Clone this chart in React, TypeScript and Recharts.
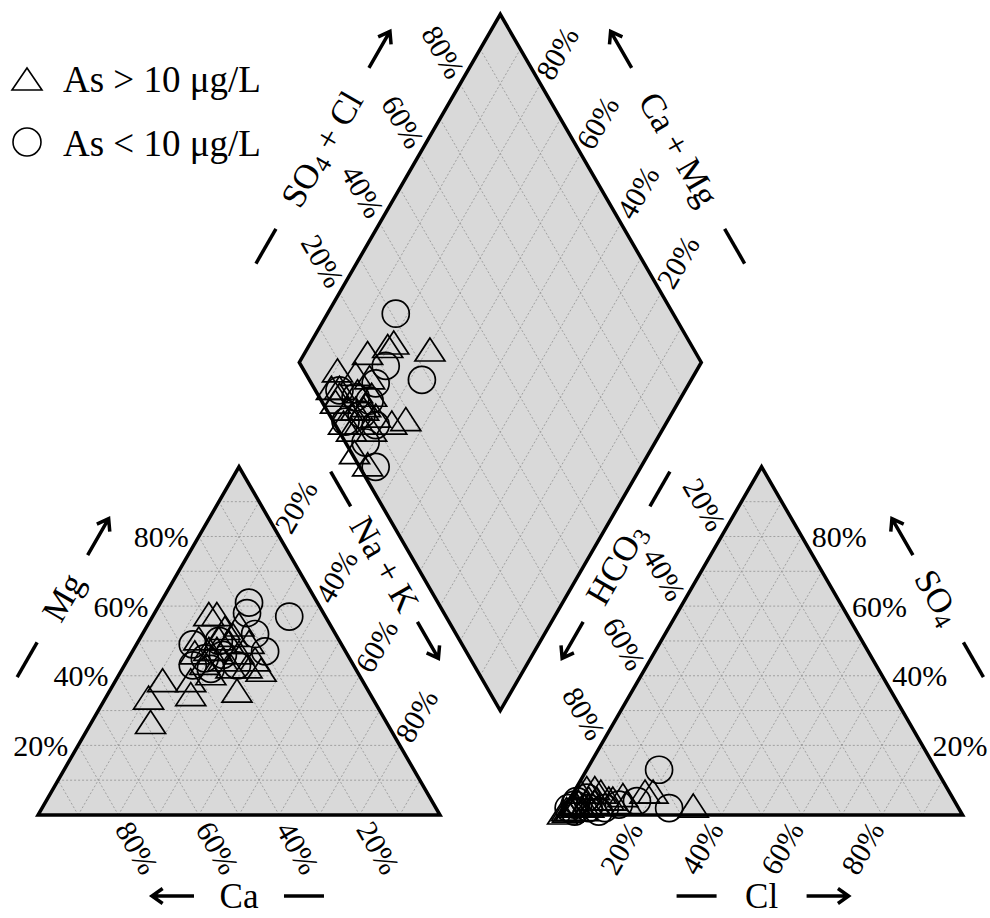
import React from "react";
import { ComposedChart, Scatter, XAxis, YAxis } from "recharts";

const W = 990;
const H = 918;
const SERIF = "Liberation Serif, Times New Roman, Times, serif";
const GREY = "#d9d9d9";

// Piper geometry in percent units: triangle side = 100, gap between the triangles = 30
const GAP = 30;
const S = Math.sqrt(3) / 2;
const X_DOMAIN: [number, number] = [-9.45, 236.82];
const Y_DOMAIN: [number, number] = [-25.62, 202.74];

const TICKS = [20, 40, 60, 80];
const GRID_STEPS = [10, 20, 30, 40, 50, 60, 70, 80, 90];

// As > 10 µg/L  (meq %)
const HIGH_CA = [59, 56, 50, 45, 43, 33, 24, 29, 27, 35, 32, 28, 27, 37, 32, 26, 23, 37, 31, 27, 27, 38, 24, 30, 23, 34];
const HIGH_MG = [26, 33, 38, 34, 38, 35, 41, 57, 57, 50, 47, 49, 46, 43, 44, 51, 49, 40, 42, 42, 53, 46, 44, 50, 54, 47];
const HIGH_CL = [2, 2, 2, 20, 3, 10, 15, 5, 5, 2, 5, 5, 0.5, 18, 3, 7, 6, 2, 7, 32, 11, 13, 1.5, 1, 7, 3];
const HIGH_SO4 = [3, 6, 2, 6, 7, 4, 3, 1, 7, 1, 2, 4, 0, 6, 3, 6, 2, 1, 4, 2, 4, 5, 0.5, 1, 3, 2];

// As < 10 µg/L
const LOW_CA = [19, 9, 37, 40, 20, 29, 17, 36, 31, 20, 30, 36];
const LOW_MG = [58, 57, 49, 43, 47, 43, 61, 42, 46, 52, 50, 45];
const LOW_CL = [6, 3, 2, 18, 26, 2, 13, 17, 10, 9, 1, 4];
const LOW_SO4 = [2, 1, 4, 13, 2, 3, 3, 4, 2, 1, 2, 5];

type Pt = { x: number; y: number };

const cation = (ca: number, mg: number): Pt => {
  const nak = 100 - ca - mg;
  return { x: nak + mg / 2, y: mg * S };
};
const anion = (cl: number, so4: number): Pt => ({ x: 100 + GAP + cl + so4 / 2, y: so4 * S });
const diamond = (a: number, c: number): Pt => ({ x: 100 + GAP / 2 + (a - c) / 2, y: GAP * S + (a + c) * S });

function samplePoints(ca: number[], mg: number[], cl: number[], so4: number[]) {
  return ca.flatMap((_, i) => [
    cation(ca[i], mg[i]),
    anion(cl[i], so4[i]),
    diamond(cl[i] + so4[i], ca[i] + mg[i]),
  ]);
}

const LEFT_TRI = [cation(100, 0), cation(0, 100), cation(0, 0)];
const RIGHT_TRI = [anion(0, 0), anion(0, 100), anion(100, 0)];
const DIAMOND = [diamond(0, 0), diamond(0, 100), diamond(100, 100), diamond(100, 0)];

const GRID = GRID_STEPS.flatMap((k) => [
  cation(100 - k, k), cation(0, k),
  cation(k, 0), cation(k, 100 - k),
  cation(100 - k, 0), cation(0, 100 - k),
  anion(0, k), anion(100 - k, k),
  anion(k, 0), anion(k, 100 - k),
  anion(100 - k, 0), anion(0, 100 - k),
  diamond(k, 0), diamond(k, 100),
  diamond(0, k), diamond(100, k),
]);

type Note = Pt & {
  kind: "text" | "dash" | "arrow";
  text?: string;
  sub?: string;
  tail?: string;
  angle: number;
  anchor?: "start" | "middle" | "end";
  dx: number;
  dy: number;
  size?: number;
  ux?: number;
  uy?: number;
};

const tickNotes = (
  at: (v: number) => Pt,
  angle: number,
  anchor: "start" | "end",
  dx: number,
  dy: number
): Note[] => TICKS.map((v) => ({ ...at(v), kind: "text", text: `${v}%`, angle, anchor, dx, dy, size: 30 }));

function titleNotes(
  at: Pt,
  u: [number, number],
  n: [number, number],
  dist: number,
  tText: number,
  tDash: number,
  tArrow: number,
  angle: number,
  text: string,
  sub?: string,
  tail?: string
): Note[] {
  const off = (t: number) => ({ dx: u[0] * t + n[0] * dist, dy: u[1] * t + n[1] * dist });
  return [
    { ...at, kind: "text", text, sub, tail, angle, anchor: "middle", size: 35, ...off(tText) },
    { ...at, kind: "dash", angle, ux: u[0], uy: u[1], ...off(tDash) },
    { ...at, kind: "arrow", angle, ux: u[0], uy: u[1], ...off(tArrow) },
  ];
}

const NOTES: Note[] = [
  ...tickNotes((v) => cation(100 - v, v), 0, "end", -10, 0),
  ...tickNotes((v) => cation(v, 0), 60, "start", 5, 9),
  ...tickNotes((v) => cation(0, 100 - v), -60, "start", 3, -6),
  ...tickNotes((v) => anion(0, 100 - v), 60, "end", -3, -8),
  ...tickNotes((v) => anion(100 - v, v), 0, "start", 10, 0),
  ...tickNotes((v) => anion(v, 0), -60, "end", -6, 9),
  ...tickNotes((v) => diamond(v, 100), 60, "end", -3, -8),
  ...tickNotes((v) => diamond(100, v), -60, "start", 3, -7),
  ...titleNotes(cation(50, 50), [0.5, -S], [-S, -0.5], 87, 0, -72, 70, -60, "Mg"),
  ...titleNotes(cation(0, 50), [0.5, S], [S, -0.5], 77, -44, -131, 43.5, 60, "Na + K"),
  ...titleNotes(cation(50, 0), [-1, 0], [0, 1], 81, 0, -65, 66, 0, "Ca"),
  ...titleNotes(anion(0, 50), [-0.5, S], [-S, -0.5], 77, -44, -131, 43.5, -60, "HCO", "3"),
  ...titleNotes(anion(50, 50), [-0.5, -S], [S, -0.5], 87, 0, -72, 70, 60, "SO", "4"),
  ...titleNotes(anion(50, 0), [1, 0], [0, 1], 81, 0, -65, 66, 0, "Cl"),
  ...titleNotes(diamond(50, 100), [0.5, -S], [-S, -0.5], 87, -5, -117, 110, -60, "SO", "4", " + Cl"),
  ...titleNotes(diamond(100, 50), [-0.5, -S], [S, -0.5], 87, -5, -117, 110, 60, "Ca + Mg"),
];

const NoDot = () => <g />;

const polyLine = (fill: string, stroke: string, width: number) => (p: any) => (
  <polygon
    points={p.points.map((q: Pt) => `${q.x},${q.y}`).join(" ")}
    fill={fill}
    stroke={stroke}
    strokeWidth={width}
    strokeLinejoin="miter"
  />
);

const pairLines = (p: any) => {
  const pts: Pt[] = p.points;
  const segs = [];
  for (let i = 0; i + 1 < pts.length; i += 2) {
    segs.push(
      <line key={i} x1={pts[i].x} y1={pts[i].y} x2={pts[i + 1].x} y2={pts[i + 1].y}
        stroke="#9a9a9a" strokeWidth={0.9} strokeDasharray="2 2" />
    );
  }
  return <g>{segs}</g>;
};

const TriangleMarker = (props: any) => {
  const { cx, cy } = props;
  return (
    <polygon
      points={`${cx},${cy - 14} ${cx - 15},${cy + 9} ${cx + 15},${cy + 9}`}
      fill="none" stroke="#000" strokeWidth={1.7}
    />
  );
};

const CircleMarker = (props: any) => (
  <circle cx={props.cx} cy={props.cy} r={13.5} fill="none" stroke="#000" strokeWidth={1.7} />
);

const NoteShape = (props: any) => {
  const n: Note = props.payload;
  const px = props.cx + n.dx;
  const py = props.cy + n.dy;
  if (n.kind === "dash") {
    const ux = n.ux ?? 1, uy = n.uy ?? 0;
    return <line x1={px - ux * 20} y1={py - uy * 20} x2={px + ux * 20} y2={py + uy * 20} stroke="#000" strokeWidth={3.5} />;
  }
  if (n.kind === "arrow") {
    const ux = n.ux ?? 1, uy = n.uy ?? 0;
    const tx = px + ux * 21, ty = py + uy * 21;
    const a = (35 * Math.PI) / 180;
    const b1x = -ux * Math.cos(a) + uy * Math.sin(a), b1y = -uy * Math.cos(a) - ux * Math.sin(a);
    const b2x = -ux * Math.cos(a) - uy * Math.sin(a), b2y = -uy * Math.cos(a) + ux * Math.sin(a);
    return (
      <path
        d={`M${px - ux * 21},${py - uy * 21} L${tx},${ty} M${tx + b1x * 13},${ty + b1y * 13} L${tx},${ty} L${tx + b2x * 13},${ty + b2y * 13}`}
        fill="none" stroke="#000" strokeWidth={3.5}
      />
    );
  }
  const size = n.size ?? 30;
  return (
    <text
      x={px} y={py}
      transform={n.angle ? `rotate(${n.angle} ${px} ${py})` : undefined}
      textAnchor={n.anchor} dominantBaseline="central"
      style={{ fontFamily: SERIF }} fontSize={size} fill="#000"
    >
      {n.text}
      {n.sub && <tspan dy={7} fontSize={size * 0.7}>{n.sub}</tspan>}
      {n.tail && <tspan dy={-7}>{n.tail}</tspan>}
    </text>
  );
};

function LegendBox() {
  return (
    <svg width={320} height={180} style={{ position: "absolute", left: 0, top: 0, pointerEvents: "none" }}>
      <polygon points="12,90 42,90 27,68" fill="none" stroke="#000" strokeWidth={1.6} />
      <text x={63} y={92} style={{ fontFamily: SERIF }} fontSize={37} fill="#000">As &gt; 10 μg/L</text>
      <circle cx={27} cy={142} r={14} fill="none" stroke="#000" strokeWidth={1.6} />
      <text x={63} y={156} style={{ fontFamily: SERIF }} fontSize={37} fill="#000">As &lt; 10 μg/L</text>
    </svg>
  );
}

export default function App() {
  return (
    <div style={{ position: "absolute", left: 0, top: 0, width: W, height: H, background: "#fff" }}>
      <ComposedChart width={W} height={H} margin={{ top: 0, right: 0, bottom: 0, left: 0 }}>
        <XAxis type="number" dataKey="x" domain={X_DOMAIN} allowDataOverflow hide />
        <YAxis type="number" dataKey="y" domain={Y_DOMAIN} allowDataOverflow hide />
        <Scatter data={LEFT_TRI} line={polyLine(GREY, "none", 0)} shape={NoDot} isAnimationActive={false} />
        <Scatter data={RIGHT_TRI} line={polyLine(GREY, "none", 0)} shape={NoDot} isAnimationActive={false} />
        <Scatter data={DIAMOND} line={polyLine(GREY, "none", 0)} shape={NoDot} isAnimationActive={false} />
        <Scatter data={GRID} line={pairLines} shape={NoDot} isAnimationActive={false} />
        <Scatter data={LEFT_TRI} line={polyLine("none", "#000", 3.5)} shape={NoDot} isAnimationActive={false} />
        <Scatter data={RIGHT_TRI} line={polyLine("none", "#000", 3.5)} shape={NoDot} isAnimationActive={false} />
        <Scatter data={DIAMOND} line={polyLine("none", "#000", 3.5)} shape={NoDot} isAnimationActive={false} />
        <Scatter data={samplePoints(LOW_CA, LOW_MG, LOW_CL, LOW_SO4)} shape={CircleMarker} isAnimationActive={false} />
        <Scatter data={samplePoints(HIGH_CA, HIGH_MG, HIGH_CL, HIGH_SO4)} shape={TriangleMarker} isAnimationActive={false} />
        <Scatter data={NOTES} shape={NoteShape} isAnimationActive={false} />
      </ComposedChart>
      <LegendBox />
    </div>
  );
}
